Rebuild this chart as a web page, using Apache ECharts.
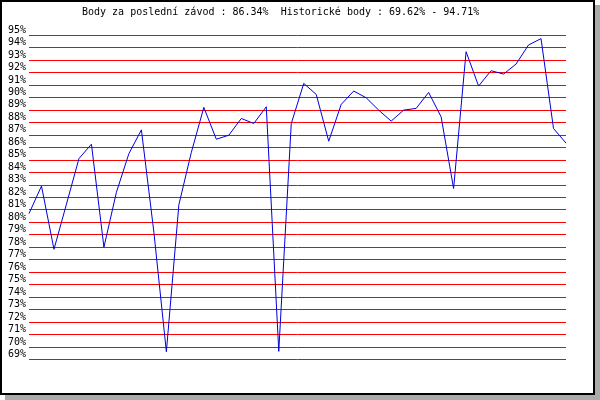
<!DOCTYPE html>
<html>
<head>
<meta charset="utf-8">
<script src="https://cdn.jsdelivr.net/npm/echarts@6/dist/echarts.min.js"></script>
<style>
html,body{margin:0;padding:0;background:#fff;}
#c{width:600px;height:400px;}
</style>
</head>
<body>
<div id="c"></div>
<script>
const titleText = "Body za poslední závod : 86.34%  Historické body : 69.62% - 94.71%";
const races = Array.from({length: 44}, (_, i) => String(i + 1));
const points = [
  80.69, 82.9, 77.83, 81.45, 85.1, 86.25, 78.0, 82.4, 85.5, 87.4,
  79.2, 69.62, 81.4, 85.6, 89.2, 86.65, 86.97, 88.31, 87.91, 89.25,
  69.65, 87.9, 91.12, 90.24, 86.49, 89.44, 90.51, 89.97, 88.98, 88.1,
  88.98, 89.12, 90.4, 88.44, 82.7, 93.66, 90.91, 92.14, 91.87, 92.67,
  94.2, 94.71, 87.51, 86.34
];
const yMin = 69, yMax = 95, yStep = 1;

const chart = echarts.init(document.getElementById('c'), null, {renderer: 'canvas'});
chart.setOption({
  animation: false,
  backgroundColor: 'transparent',
  graphic: {
    z: -10,
    elements: [
      {type: 'rect', z: -10, shape: {x: 5, y: 5, width: 595, height: 395}, style: {fill: '#aaaaaa'}},
      {type: 'rect', z: -9, shape: {x: 1, y: 1, width: 593, height: 393}, style: {fill: '#ffffff', stroke: '#000000', lineWidth: 2}}
    ]
  },
  title: {
    text: titleText,
    left: 82, top: 7, padding: 0,
    textStyle: {fontFamily: 'DejaVu Sans Mono', fontSize: 10, fontWeight: 'normal', color: '#000'}
  },
  grid: {left: 29, right: 34, top: 35, bottom: 40.5, containLabel: false},
  xAxis: {
    type: 'category', data: races, boundaryGap: false, show: false
  },
  yAxis: {
    type: 'value', min: yMin, max: yMax, interval: yStep,
    axisLine: {show: false}, axisTick: {show: false},
    axisLabel: {
      formatter: '{value}%', verticalAlign: 'bottom', margin: 3,
      fontFamily: 'DejaVu Sans Mono', fontSize: 10, color: '#000'
    },
    splitLine: {lineStyle: {color: '#ff0000', width: 1}}
  },
  series: [{
    type: 'line', data: points, showSymbol: false, symbol: 'none',
    lineStyle: {color: '#0000dd', width: 1}, z: 5
  }]
});
</script>
</body>
</html>
